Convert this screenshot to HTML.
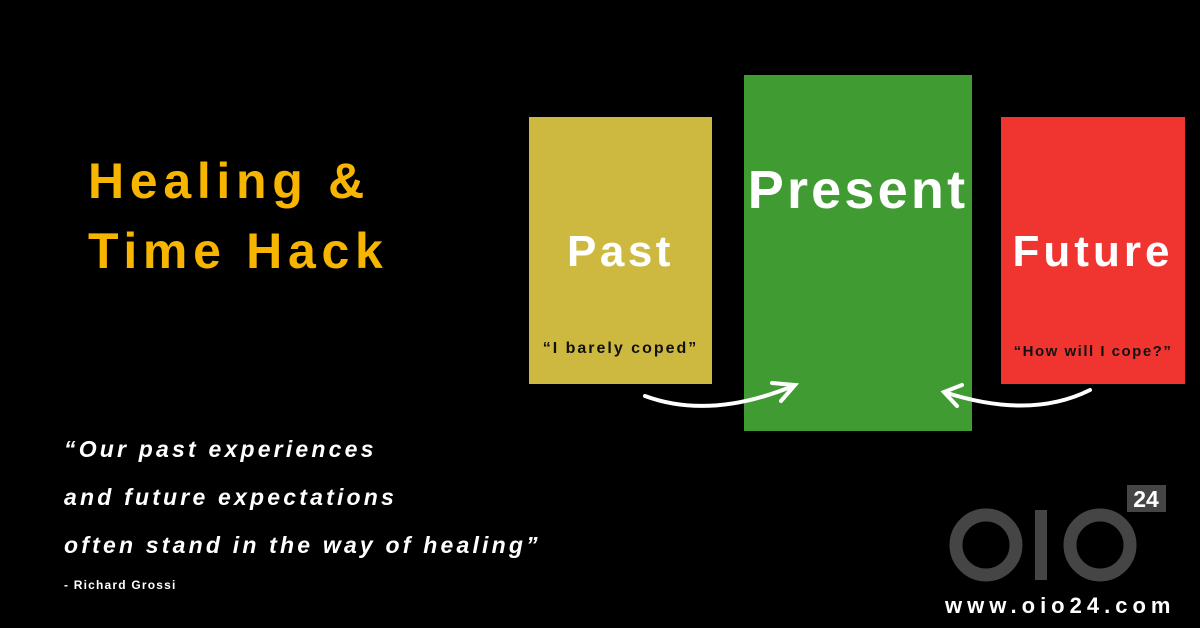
<!DOCTYPE html>
<html><head><meta charset="utf-8"><style>
body{margin:0;width:1200px;height:628px;background:#000;position:relative;overflow:hidden;font-family:"Liberation Sans",sans-serif}
.a{position:absolute;white-space:nowrap}
.t{color:#F7B500;font-weight:bold;font-size:50px;letter-spacing:5.7px;left:88px}
.q{color:#fff;font-weight:bold;font-style:italic;font-size:23px;letter-spacing:3.2px;left:64px}
.box{position:absolute}
.lbl{color:#fff;font-weight:bold;text-align:center;width:100%;position:absolute}
.sm{color:#111;font-weight:bold;font-size:16px;letter-spacing:2px;text-align:center;width:100%;position:absolute}
</style></head><body>
<div class="a t" style="top:152px">Healing &amp;</div>
<div class="a t" style="top:222px">Time Hack</div>

<div class="box" style="left:529px;top:117px;width:183px;height:267px;background:#CDB93F">
 <div class="lbl" style="top:110px;font-size:44px;letter-spacing:3.5px">Past</div>
 <div class="sm" style="top:223px">“I barely coped”</div>
</div>
<div class="box" style="left:744px;top:75px;width:228px;height:356px;background:#409B32">
 <div class="lbl" style="top:84px;font-size:54px;letter-spacing:3.2px">Present</div>
</div>
<div class="box" style="left:1001px;top:117px;width:184px;height:267px;background:#F03530">
 <div class="lbl" style="top:110px;font-size:44px;letter-spacing:4px">Future</div>
 <div class="sm" style="top:226px;font-size:15px;letter-spacing:1.5px">“How will I cope?”</div>
</div>

<svg class="a" style="left:0;top:0" width="1200" height="628">
 <g fill="none" stroke="#fff" stroke-width="4" stroke-linecap="round">
  <path d="M645 396 Q710 420 793 386"/>
  <path d="M772 383 L795 385 L781 401"/>
  <path d="M1090 390 Q1030 420 944 392"/>
  <path d="M962 385 L944 392 L957 406"/>
 </g>
 <g fill="none" stroke="#454545" stroke-width="13">
  <circle cx="986" cy="545" r="30"/>
  <circle cx="1100" cy="545" r="30"/>
 </g>
 <rect x="1035" y="510" width="12" height="70" fill="#454545"/>
 <rect x="1127" y="485" width="39" height="27" fill="#454545"/>
 <text x="1146" y="507" fill="#fff" font-size="23" font-weight="bold" text-anchor="middle" font-family="Liberation Sans">24</text>
 <text x="945" y="613" fill="#fff" font-size="22" font-weight="bold" letter-spacing="5" font-family="Liberation Sans">www.oio24.com</text>
</svg>

<div class="a q" style="top:436px">“Our past experiences</div>
<div class="a q" style="top:484px">and future expectations</div>
<div class="a q" style="top:532px">often stand in the way of healing”</div>
<div class="a" style="left:64px;top:578px;color:#fff;font-size:12px;font-weight:bold;letter-spacing:1.2px">- Richard Grossi</div>
</body></html>
